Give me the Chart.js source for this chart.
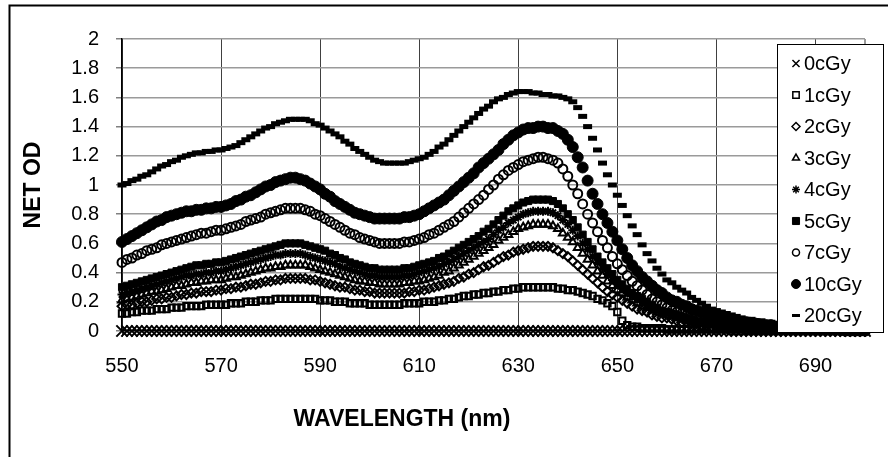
<!DOCTYPE html>
<html>
<head>
<meta charset="utf-8">
<script src="https://cdn.jsdelivr.net/npm/chart.js@4.4.1/dist/chart.umd.min.js"></script>
<style>
  html, body { margin: 0; padding: 0; background: #fff; }
  #grafico { display: block; }
</style>
</head>
<body>
<canvas id="grafico" width="888" height="457"></canvas>
<script>
// comprimento de onda: 550 a 700 nm, um ponto por nm
const startNm = 550;
const stepNm = 1;

const doseLabels = ['0cGy', '1cGy', '2cGy', '3cGy', '4cGy', '5cGy', '7cGy', '10cGy', '20cGy'];
const xTickLabels = [550, 570, 590, 610, 630, 650, 670, 690];

const od0 = [
  0,0,0,0,0,0,0,0,0,0, 0,0,0,0,0,0,0,0,0,0, 0,0,0,0,0,0,0,0,0,0,
  0,0,0,0,0,0,0,0,0,0, 0,0,0,0,0,0,0,0,0,0, 0,0,0,0,0,0,0,0,0,0,
  0,0,0,0,0,0,0,0,0,0, 0,0,0,0,0,0,0,0,0,0, 0,0,0,0,0,0,0,0,0,0,
  0,0,0,0,0,0,0,0,0,0, 0,0,0,0,0,0,0,0,0,0, 0,0,0,0,0,0,0,0,0,0,
  0,0,0,0,0,0,0,0,0,0, 0,0,0,0,0,0,0,0,0,0, 0,0,0,0,0,0,0,0,0,0,
  0
];
const od1 = [
  0.12,0.12,0.13,0.13,0.14,0.14,0.14,0.15,0.15,0.15,
  0.16,0.16,0.16,0.17,0.17,0.17,0.17,0.18,0.18,0.18,
  0.18,0.18,0.19,0.19,0.19,0.20,0.20,0.20,0.21,0.21,
  0.21,0.22,0.22,0.22,0.22,0.22,0.22,0.22,0.22,0.22,
  0.21,0.21,0.21,0.20,0.20,0.20,0.19,0.19,0.19,0.19,
  0.18,0.18,0.18,0.18,0.18,0.18,0.18,0.19,0.19,0.19,
  0.19,0.20,0.20,0.20,0.21,0.21,0.22,0.22,0.23,0.24,
  0.24,0.25,0.25,0.26,0.26,0.27,0.27,0.28,0.28,0.29,
  0.29,0.30,0.30,0.30,0.30,0.30,0.30,0.30,0.29,0.29,
  0.28,0.28,0.27,0.26,0.25,0.24,0.22,0.21,0.19,0.17,
  0.13,0.07,0.04,0.03,0.03,0.02,0.02,0.02,0.02,0.02,
  0.01,0.01,0.01,0.01,0.01,0.01,0.01,0.01,0.01,0.01,
  0.01,0.01,0.01,0.00,0.00,0.00,0.00,0.00,0.00,0.00,
  0,0,0,0,0,0,0,0,0,0,
  0,0,0,0,0,0,0,0,0,0,
  0
];
const od2 = [
  0.17,0.18,0.18,0.19,0.20,0.20,0.21,0.22,0.22,0.23,
  0.23,0.24,0.25,0.25,0.26,0.26,0.27,0.27,0.27,0.28,
  0.28,0.29,0.29,0.30,0.30,0.31,0.32,0.32,0.33,0.34,
  0.34,0.35,0.35,0.36,0.36,0.36,0.36,0.36,0.35,0.35,
  0.34,0.33,0.32,0.31,0.30,0.30,0.29,0.28,0.28,0.27,
  0.27,0.26,0.26,0.26,0.26,0.26,0.26,0.26,0.27,0.27,
  0.28,0.28,0.29,0.30,0.31,0.32,0.33,0.34,0.36,0.37,
  0.39,0.40,0.42,0.44,0.45,0.47,0.49,0.51,0.52,0.54,
  0.55,0.56,0.57,0.58,0.58,0.58,0.58,0.57,0.55,0.53,
  0.51,0.48,0.45,0.42,0.39,0.36,0.33,0.30,0.27,0.25,
  0.23,0.21,0.19,0.17,0.15,0.14,0.13,0.11,0.10,0.09,
  0.09,0.08,0.07,0.06,0.06,0.05,0.05,0.04,0.04,0.03,
  0.03,0.03,0.02,0.02,0.02,0.02,0.01,0.01,0.01,0.01,
  0.01,0.01,0.01,0,0,0,0,0,0,0,
  0,0,0,0,0,0,0,0,0,0,
  0
];
const od3 = [
  0.21,0.22,0.23,0.24,0.25,0.26,0.27,0.27,0.28,0.29,
  0.30,0.31,0.31,0.32,0.33,0.33,0.34,0.34,0.35,0.35,
  0.35,0.36,0.37,0.37,0.38,0.39,0.40,0.41,0.42,0.43,
  0.43,0.44,0.44,0.45,0.45,0.45,0.45,0.45,0.44,0.43,
  0.42,0.41,0.40,0.39,0.38,0.37,0.36,0.35,0.34,0.34,
  0.33,0.33,0.32,0.32,0.32,0.32,0.32,0.33,0.33,0.34,
  0.34,0.35,0.36,0.37,0.38,0.40,0.41,0.43,0.45,0.47,
  0.49,0.51,0.53,0.55,0.57,0.59,0.62,0.64,0.66,0.68,
  0.70,0.71,0.72,0.73,0.73,0.73,0.73,0.72,0.70,0.67,
  0.64,0.61,0.57,0.53,0.49,0.45,0.41,0.38,0.34,0.31,
  0.28,0.26,0.23,0.21,0.19,0.17,0.16,0.14,0.13,0.12,
  0.11,0.10,0.09,0.08,0.07,0.06,0.06,0.05,0.05,0.04,
  0.04,0.03,0.03,0.03,0.02,0.02,0.02,0.02,0.01,0.01,
  0.01,0.01,0.01,0.01,0.01,0.01,0,0,0,0,
  0,0,0,0,0,0,0,0,0,0,
  0
];
const od4 = [
  0.25,0.26,0.27,0.28,0.29,0.30,0.31,0.32,0.33,0.34,
  0.35,0.36,0.37,0.38,0.38,0.39,0.39,0.40,0.40,0.41,
  0.41,0.42,0.43,0.44,0.45,0.46,0.47,0.48,0.49,0.50,
  0.51,0.52,0.52,0.53,0.53,0.53,0.53,0.52,0.51,0.50,
  0.49,0.48,0.47,0.46,0.44,0.43,0.42,0.41,0.40,0.39,
  0.38,0.38,0.37,0.37,0.37,0.37,0.37,0.38,0.38,0.39,
  0.40,0.41,0.42,0.43,0.44,0.46,0.47,0.49,0.51,0.53,
  0.55,0.57,0.59,0.61,0.63,0.66,0.69,0.71,0.74,0.76,
  0.78,0.80,0.81,0.82,0.82,0.82,0.82,0.81,0.79,0.76,
  0.73,0.69,0.65,0.60,0.56,0.51,0.47,0.43,0.39,0.35,
  0.32,0.29,0.26,0.24,0.22,0.20,0.18,0.16,0.15,0.13,
  0.12,0.11,0.10,0.09,0.08,0.07,0.06,0.06,0.05,0.05,
  0.04,0.04,0.03,0.03,0.03,0.02,0.02,0.02,0.02,0.01,
  0.01,0.01,0.01,0.01,0.01,0.01,0.01,0.01,0,0,
  0,0,0,0,0,0,0,0,0,0,
  0
];
const od5 = [
  0.30,0.31,0.32,0.33,0.34,0.35,0.36,0.37,0.38,0.39,
  0.40,0.41,0.42,0.43,0.44,0.45,0.45,0.46,0.46,0.47,
  0.47,0.48,0.49,0.50,0.51,0.52,0.53,0.54,0.55,0.56,
  0.57,0.58,0.59,0.60,0.60,0.60,0.60,0.59,0.58,0.57,
  0.56,0.55,0.53,0.52,0.50,0.49,0.47,0.46,0.45,0.44,
  0.43,0.43,0.42,0.42,0.42,0.42,0.42,0.43,0.43,0.44,
  0.45,0.46,0.47,0.48,0.50,0.51,0.53,0.55,0.57,0.59,
  0.61,0.63,0.65,0.68,0.70,0.73,0.76,0.79,0.82,0.84,
  0.86,0.88,0.89,0.90,0.90,0.90,0.90,0.89,0.87,0.84,
  0.80,0.76,0.71,0.66,0.61,0.56,0.51,0.47,0.43,0.39,
  0.35,0.32,0.29,0.26,0.24,0.22,0.20,0.18,0.16,0.14,
  0.13,0.12,0.11,0.10,0.09,0.08,0.07,0.06,0.06,0.05,
  0.05,0.04,0.04,0.03,0.03,0.03,0.02,0.02,0.02,0.02,
  0.02,0.01,0.01,0.01,0.01,0.01,0.01,0.01,0.01,0.01,
  0.01,0.01,0,0,0,0,0,0,0,0,
  0
];
const od7 = [
  0.47,0.49,0.50,0.52,0.53,0.55,0.56,0.57,0.59,0.60,
  0.61,0.62,0.63,0.64,0.65,0.66,0.67,0.67,0.68,0.69,
  0.69,0.70,0.71,0.72,0.73,0.75,0.76,0.77,0.78,0.80,
  0.81,0.82,0.83,0.84,0.84,0.84,0.84,0.83,0.82,0.80,
  0.79,0.77,0.75,0.73,0.71,0.69,0.67,0.66,0.64,0.63,
  0.62,0.61,0.60,0.60,0.60,0.60,0.60,0.61,0.61,0.62,
  0.63,0.64,0.66,0.67,0.69,0.71,0.73,0.75,0.78,0.81,
  0.84,0.87,0.90,0.93,0.97,1.00,1.04,1.07,1.10,1.12,
  1.14,1.16,1.17,1.18,1.19,1.19,1.18,1.17,1.15,1.11,
  1.06,1.00,0.94,0.87,0.80,0.74,0.68,0.62,0.57,0.51,
  0.46,0.42,0.38,0.34,0.31,0.28,0.25,0.22,0.20,0.18,
  0.16,0.14,0.13,0.12,0.11,0.10,0.09,0.08,0.07,0.06,
  0.06,0.05,0.05,0.04,0.04,0.03,0.03,0.03,0.03,0.02,
  0.02,0.02,0.02,0.02,0.01,0.01,0.01,0.01,0.01,0.01,
  0.01,0.01,0.01,0.01,0.01,0.01,0,0,0,0,
  0
];
const od10 = [
  0.61,0.63,0.65,0.67,0.69,0.71,0.73,0.75,0.76,0.78,
  0.79,0.80,0.81,0.82,0.82,0.83,0.83,0.84,0.84,0.85,
  0.85,0.86,0.87,0.89,0.90,0.92,0.93,0.95,0.97,0.99,
  1.00,1.02,1.03,1.04,1.05,1.05,1.04,1.03,1.01,0.99,
  0.97,0.94,0.92,0.89,0.87,0.85,0.83,0.81,0.80,0.79,
  0.78,0.77,0.77,0.77,0.77,0.77,0.77,0.78,0.78,0.79,
  0.80,0.82,0.84,0.86,0.88,0.90,0.93,0.96,0.99,1.02,
  1.05,1.08,1.12,1.15,1.18,1.21,1.24,1.28,1.31,1.34,
  1.36,1.38,1.39,1.39,1.40,1.40,1.39,1.39,1.37,1.35,
  1.31,1.26,1.19,1.12,1.03,0.94,0.87,0.80,0.74,0.68,
  0.62,0.56,0.50,0.45,0.41,0.37,0.34,0.31,0.28,0.26,
  0.23,0.21,0.20,0.18,0.17,0.15,0.14,0.13,0.12,0.11,
  0.10,0.09,0.08,0.08,0.07,0.06,0.06,0.05,0.05,0.04,
  0.04,0.04,0.03,0.03,0.03,0.02,0.02,0.02,0.02,0.02,
  0.01,0.01,0.01,0.01,0.01,0.01,0.01,0.01,0.01,0.01,
  0.01
];
const od20 = [
  1.00,1.01,1.03,1.04,1.06,1.07,1.09,1.11,1.13,1.14,
  1.16,1.17,1.19,1.20,1.21,1.22,1.22,1.23,1.23,1.24,
  1.24,1.25,1.26,1.27,1.29,1.31,1.33,1.35,1.37,1.39,
  1.40,1.42,1.43,1.44,1.45,1.45,1.45,1.45,1.44,1.42,
  1.41,1.39,1.37,1.35,1.33,1.30,1.28,1.25,1.23,1.21,
  1.19,1.17,1.16,1.15,1.15,1.15,1.15,1.15,1.16,1.17,
  1.18,1.19,1.21,1.23,1.26,1.28,1.31,1.34,1.37,1.40,
  1.43,1.46,1.49,1.52,1.54,1.57,1.59,1.60,1.62,1.63,
  1.64,1.64,1.64,1.63,1.63,1.62,1.62,1.61,1.61,1.60,
  1.59,1.57,1.53,1.47,1.40,1.32,1.24,1.15,1.07,1.00,
  0.93,0.86,0.79,0.72,0.66,0.59,0.53,0.48,0.43,0.39,
  0.35,0.33,0.30,0.28,0.26,0.23,0.21,0.19,0.17,0.15,
  0.14,0.13,0.12,0.11,0.10,0.09,0.08,0.08,0.07,0.07,
  0.06,0.06,0.05,0.05,0.04,0.04,0.03,0.03,0.03,0.02,
  0.02,0.02,0.02,0.01,0.01,0.01,0.01,0.01,0.01,0.01,
  0.01
];

const seriesValues = [od0, od1, od2, od3, od4, od5, od7, od10, od20];

// estilo dos marcadores (como no Excel); legendRadius = tamanho na legenda
const markerStyles = [
  { pointStyle: 'crossRot', radius: 8, legendRadius: 5, borderWidth: 2, fill: false },
  { pointStyle: 'rect', radius: 4.5, legendRadius: 4.5, borderWidth: 2, fill: false },
  { pointStyle: 'rectRot', radius: 4.5, legendRadius: 4, borderWidth: 2, fill: false },
  { pointStyle: 'triangle', radius: 4.5, legendRadius: 4, borderWidth: 2, fill: false },
  { pointStyle: 'star', radius: 4.5, legendRadius: 4, borderWidth: 2, fill: false },
  { pointStyle: 'rect', radius: 5, legendRadius: 5, borderWidth: 1, fill: true },
  { pointStyle: 'circle', radius: 4.5, legendRadius: 3.5, borderWidth: 2, fill: false },
  { pointStyle: 'circle', radius: 5.5, legendRadius: 4.5, borderWidth: 1, fill: true },
  { pointStyle: 'line', radius: 4.5, legendRadius: 4, borderWidth: 5, fill: false }
];

const datasets = seriesValues.map((vals, k) => {
  const st = markerStyles[k];
  return {
    label: doseLabels[k],
    data: vals.map((v, i) => ({ x: startNm + i * stepNm, y: v })),
    showLine: false,
    clip: false,
    pointStyle: st.pointStyle,
    pointRadius: st.radius,
    pointHoverRadius: st.radius,
    pointBorderWidth: st.borderWidth,
    borderColor: '#000',
    backgroundColor: st.fill ? '#000' : 'rgba(0,0,0,0)'
  };
});

// legenda, titulos e moldura desenhados por cima
const moldura = {
  id: 'moldura',
  beforeDraw(chart) {
    const c = chart.ctx;
    c.save();
    c.fillStyle = '#fff';
    c.fillRect(0, 0, chart.width, chart.height);
    c.restore();
  },
  afterDraw(chart) {
    const c = chart.ctx;
    const area = chart.chartArea;
    c.save();

    // borda externa (so esquerda e topo aparecem)
    c.strokeStyle = '#000';
    c.lineWidth = 2;
    c.beginPath();
    c.moveTo(9.5, chart.height);
    c.lineTo(9.5, 5.5);
    c.lineTo(chart.width, 5.5);
    c.stroke();

    // titulos dos eixos
    c.fillStyle = '#000';
    c.font = 'bold 23px "Liberation Sans", Arial, sans-serif';
    c.textAlign = 'center';
    c.textBaseline = 'middle';
    c.fillText('WAVELENGTH (nm)', 402, 420);
    c.save();
    c.translate(34, (area.top + area.bottom) / 2);
    c.rotate(-Math.PI / 2);
    c.fillText('NET OD', 0, 0);
    c.restore();

    // legenda
    const lx = 777, ly = 44, lw = 106, lh = 288;
    c.fillStyle = '#fff';
    c.fillRect(lx, ly, lw, lh);
    c.strokeStyle = '#000';
    c.lineWidth = 1;
    c.strokeRect(lx + 0.5, ly + 0.5, lw, lh);
    c.font = '20px "Liberation Sans", Arial, sans-serif';
    c.textAlign = 'left';
    chart.data.datasets.forEach((ds, k) => {
      const y = 63.5 + k * 31.5;
      const st = markerStyles[k];
      c.fillStyle = st.fill ? '#000' : 'rgba(0,0,0,0)';
      c.strokeStyle = '#000';
      c.lineWidth = st.pointStyle === 'line' ? 3 : Math.min(st.borderWidth, 1.5);
      Chart.helpers.drawPoint(c, { pointStyle: st.pointStyle, radius: st.legendRadius, borderWidth: c.lineWidth, rotation: 0 }, 796, y);
      c.fillStyle = '#000';
      c.fillText(ds.label, 804, y + 1);
    });
    c.restore();
  }
};

Chart.defaults.font.family = '"Liberation Sans", Arial, sans-serif';
Chart.defaults.font.size = 20;
Chart.defaults.color = '#000';

const ctx = document.getElementById('grafico').getContext('2d');
const grafico = new Chart(ctx, {
  type: 'scatter',
  data: { datasets: datasets },
  options: {
    responsive: false,
    animation: false,
    layout: { padding: { left: 0, top: 39, right: 23, bottom: 0 } },
    plugins: { legend: { display: false }, tooltip: { enabled: false } },
    scales: {
      x: {
        type: 'linear',
        min: 550,
        max: 700,
        afterFit: (scale) => { scale.height = 126; },
        // ticks em 550, 570, ... 690 e a borda em 700
        afterBuildTicks: (scale) => {
          scale.ticks = xTickLabels.concat([700]).map((v) => ({ value: v }));
        },
        ticks: {
          padding: 17,
          maxRotation: 0,
          autoSkip: false,
          callback: (v) => xTickLabels.includes(v) ? String(v) : ''
        },
        grid: {
          color: (g) => (g.tick && g.tick.value === 700) ? '#9a9a9a' : '#404040',
          lineWidth: (g) => (g.tick && g.tick.value === 700) ? 2 : 1,
          tickLength: 6,
          tickColor: '#404040'
        },
        border: { color: '#000', width: 1.5 }
      },
      y: {
        min: 0,
        max: 2,
        afterFit: (scale) => { scale.width = 122; },
        ticks: {
          stepSize: 0.2,
          padding: 17,
          callback: (v) => String(Math.round(v * 10) / 10)
        },
        grid: {
          color: '#9a9a9a',
          lineWidth: 1.5,
          tickLength: 6,
          tickColor: '#808080'
        },
        border: { color: '#000', width: 1.5 }
      }
    }
  },
  plugins: [moldura]
});
</script>
</body>
</html>
